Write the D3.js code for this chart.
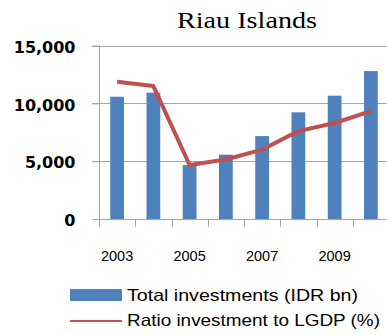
<!DOCTYPE html>
<html><head><meta charset="utf-8">
<script src="https://cdn.jsdelivr.net/npm/d3@7"></script>
<style>html,body{margin:0;padding:0;background:#fff;overflow:hidden}</style>
</head><body>
<svg id="c" width="387" height="335"></svg>
<script>
const years = ["2003","2004","2005","2006","2007","2008","2009","2010"];
const investments = [10570, 10920, 4670, 5560, 7170, 9220, 10660, 12790];
const ratio = [11.87, 11.49, 4.67, 5.14, 6.0, 7.6, 8.3, 9.33];
const yTicks = [0, 5000, 10000, 15000];
const xLabelYears = ["2003","2005","2007","2009"];
const title = "Riau Islands";
const legendLabels = ["Total investments (IDR bn)", "Ratio investment to LGDP (%)"];

const svg = d3.select("#c");
const L = 99, R = 389, T = 45.5, B = 219;
const x = d3.scaleBand().domain(years).range([L, R]).paddingInner(0.62).paddingOuter(0.31);
const y = d3.scaleLinear().domain([0, 15000]).range([B, T]);
const y2 = d3.scaleLinear().domain([0, 15]).range([B, T]);
const grid = "#a6a6a6";

// title
svg.append("text").attr("x", 247).attr("y", 28).attr("text-anchor", "middle")
  .attr("font-family", "Liberation Serif, serif").attr("font-size", 24)
  .attr("textLength", 140).attr("lengthAdjust", "spacingAndGlyphs")
  .attr("fill", "#000").text(title);

// gridlines
svg.append("g").selectAll("line").data(yTicks.filter(d => d > 0)).join("line")
  .attr("x1", L - 7).attr("x2", R).attr("y1", d => Math.round(y(d)) + 0.5).attr("y2", d => Math.round(y(d)) + 0.5)
  .attr("stroke", grid).attr("stroke-width", 1);

// y axis
const yAxis = d3.axisLeft(y).tickValues(yTicks).tickSize(7).tickFormat(d3.format(","));
const gy = svg.append("g").attr("transform", `translate(${L + 0.5},0)`).call(yAxis);
gy.select(".domain").attr("stroke", grid).attr("d", `M0,${T}V${B}`);
gy.selectAll(".tick line").attr("stroke", grid);
gy.selectAll(".tick text").attr("x", -24).attr("dy", "0.42em")
  .attr("font-family", "DejaVu Sans, sans-serif").attr("font-weight", "bold").attr("font-size", 16)
  .attr("fill", "#000");

// bars
svg.append("g").selectAll("rect").data(years).join("rect")
  .attr("x", d => x(d)).attr("width", x.bandwidth())
  .attr("y", (d, i) => y(investments[i])).attr("height", (d, i) => B - y(investments[i]))
  .attr("fill", "#4f81bd");

// x axis
const step = x.step();
const boundaries = years.map(d => x(d) - step * x.paddingInner() / 2).concat([R]);
svg.append("line").attr("x1", L).attr("x2", R).attr("y1", B + 0.5).attr("y2", B + 0.5).attr("stroke", grid);
svg.append("g").selectAll("line").data(boundaries).join("line")
  .attr("x1", d => Math.round(d) + 0.5).attr("x2", d => Math.round(d) + 0.5)
  .attr("y1", B).attr("y2", B + 8).attr("stroke", grid);
svg.append("g").selectAll("text").data(xLabelYears).join("text")
  .attr("x", d => x(d) + x.bandwidth() / 2).attr("y", 261)
  .attr("text-anchor", "middle").attr("font-family", "Liberation Sans, sans-serif")
  .attr("font-size", 14.5).attr("fill", "#000").text(d => d);

// line
const line = d3.line().x((d, i) => x(years[i]) + x.bandwidth() / 2).y(d => y2(d));
svg.append("path").datum(ratio).attr("d", line).attr("fill", "none")
  .attr("stroke", "#c0504d").attr("stroke-width", 4).attr("stroke-linejoin", "round");

// legend
svg.append("rect").attr("x", 70).attr("y", 289).attr("width", 52).attr("height", 12).attr("fill", "#4f81bd");
svg.append("line").attr("x1", 70).attr("x2", 122).attr("y1", 321).attr("y2", 321)
  .attr("stroke", "#c0504d").attr("stroke-width", 2);
const lg = [[300.5, 231], [326, 253]];
legendLabels.forEach((t, i) => {
  svg.append("text").attr("x", 127).attr("y", lg[i][0])
    .attr("font-family", "Liberation Sans, sans-serif").attr("font-size", 16.5)
    .attr("textLength", lg[i][1]).attr("lengthAdjust", "spacingAndGlyphs")
    .attr("fill", "#000").text(t);
});
</script>
</body></html>
